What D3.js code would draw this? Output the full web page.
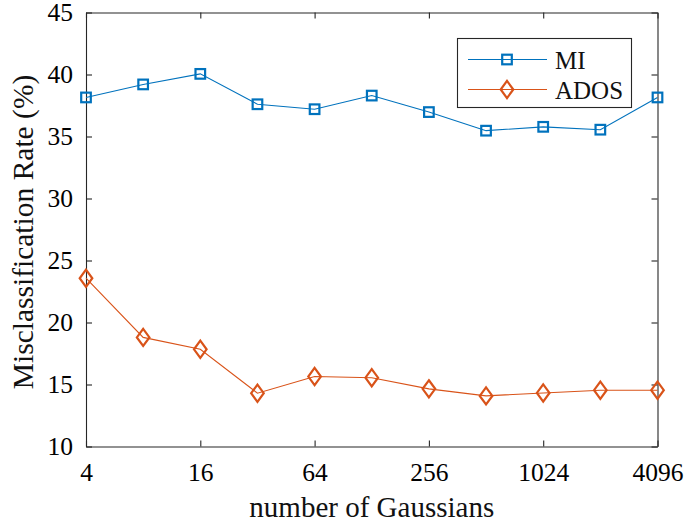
<!DOCTYPE html>
<html>
<head>
<meta charset="utf-8">
<script src="https://cdn.jsdelivr.net/npm/d3@7"></script>
<style>
  body { margin: 0; background: #fff; }
  svg { display: block; }
  svg text { font-family: "Liberation Serif", "DejaVu Serif", serif; }
</style>
</head>
<body>
<svg id="chart" width="685" height="523"></svg>
<script>
// number of Gaussians
const gaussians = [4, 8, 16, 32, 64, 128, 256, 512, 1024, 2048, 4096];
const miRate = [38.15, 39.2, 40.05, 37.6, 37.2, 38.3, 36.97, 35.47, 35.78, 35.55, 38.15];
const adosRate = [23.57, 18.8, 17.84, 14.3, 15.64, 15.55, 14.65, 14.08, 14.32, 14.54, 14.54];
const xTicks = [4, 16, 64, 256, 1024, 4096];
const yTicks = [10, 15, 20, 25, 30, 35, 40, 45];

const width = 685;
const height = 523;
const margin = { top: 12.5, right: 27.5, bottom: 76.5, left: 86 };
const axisColor = "#262626";

const svg = d3.select("#chart");

const x = d3.scaleLog().base(2)
  .domain([4, 4096])
  .range([margin.left, width - margin.right]);

const y = d3.scaleLinear()
  .domain([10, 45])
  .range([height - margin.bottom, margin.top]);

const x0 = x.range()[0], x1 = x.range()[1];
const y0 = y.range()[0], y1 = y.range()[1];

// axes (MATLAB style box, inward ticks)
const fmt = d => d;
const tick = 6;

svg.append("g")
  .attr("transform", `translate(0,${y0})`)
  .call(d3.axisBottom(x).tickValues(xTicks).tickFormat(fmt).tickSizeInner(-tick).tickSizeOuter(0).tickPadding(16))
  .attr("font-size", 25.5)
  .call(g => g.selectAll("text").attr("fill", "#000"));

svg.append("g")
  .attr("transform", `translate(0,${y1})`)
  .call(d3.axisTop(x).tickValues(xTicks).tickFormat("").tickSizeInner(-tick).tickSizeOuter(0));

svg.append("g")
  .attr("transform", `translate(${x0},0)`)
  .call(d3.axisLeft(y).tickValues(yTicks).tickFormat(fmt).tickSizeInner(-tick).tickSizeOuter(0).tickPadding(13))
  .attr("font-size", 25.5)
  .call(g => g.selectAll("text").attr("fill", "#000"));

svg.append("g")
  .attr("transform", `translate(${x1},0)`)
  .call(d3.axisRight(y).tickValues(yTicks).tickFormat("").tickSizeInner(-tick).tickSizeOuter(0));

svg.selectAll(".domain, .tick line")
  .attr("stroke", axisColor)
  .attr("stroke-width", 1.1);

// axis titles
svg.append("text")
  .attr("x", (x0 + x1) / 2)
  .attr("y", 517)
  .attr("text-anchor", "middle")
  .attr("font-size", 29)
  .attr("fill", "#111")
  .text("number of Gaussians");

svg.append("text")
  .attr("transform", `translate(33,232) rotate(-90)`)
  .attr("text-anchor", "middle")
  .attr("font-size", 29.5)
  .attr("fill", "#111")
  .text("Misclassification Rate (%)");

// series
const series = [
  { name: "MI", values: miRate, color: "#0072BD", marker: "square" },
  { name: "ADOS", values: adosRate, color: "#D95319", marker: "diamond" }
];

const line = d3.line()
  .x((d, i) => x(gaussians[i]))
  .y(d => y(d));

function drawMarker(g, type, color) {
  if (type === "square") {
    g.append("rect")
      .attr("x", -4.8).attr("y", -4.8)
      .attr("width", 9.6).attr("height", 9.6)
      .attr("fill", "none").attr("stroke", color).attr("stroke-width", 2.2);
  } else {
    g.append("path")
      .attr("d", "M0,-8.6L6.3,0L0,8.6L-6.3,0Z")
      .attr("fill", "none").attr("stroke", color).attr("stroke-width", 2.2);
  }
}

series.forEach(s => {
  svg.append("path")
    .datum(s.values)
    .attr("d", line)
    .attr("fill", "none")
    .attr("stroke", s.color)
    .attr("stroke-width", 1.1);

  s.values.forEach((v, i) => {
    const g = svg.append("g").attr("transform", `translate(${x(gaussians[i])},${y(v)})`);
    drawMarker(g, s.marker, s.color);
  });
});

// legend
const legend = svg.append("g");
legend.append("rect")
  .attr("x", 457.5).attr("y", 38.5)
  .attr("width", 174).attr("height", 69)
  .attr("fill", "#fff")
  .attr("stroke", axisColor)
  .attr("stroke-width", 1.1);

series.forEach((s, i) => {
  const cy = 59.5 + i * 30;
  legend.append("line")
    .attr("x1", 468).attr("x2", 547)
    .attr("y1", cy).attr("y2", cy)
    .attr("stroke", s.color).attr("stroke-width", 1.1);
  drawMarker(legend.append("g").attr("transform", `translate(507,${cy})`), s.marker, s.color);
  legend.append("text")
    .attr("x", 555).attr("y", cy + 9.3)
    .attr("font-size", 25)
    .attr("fill", "#111")
    .text(s.name);
});
</script>
</body>
</html>
